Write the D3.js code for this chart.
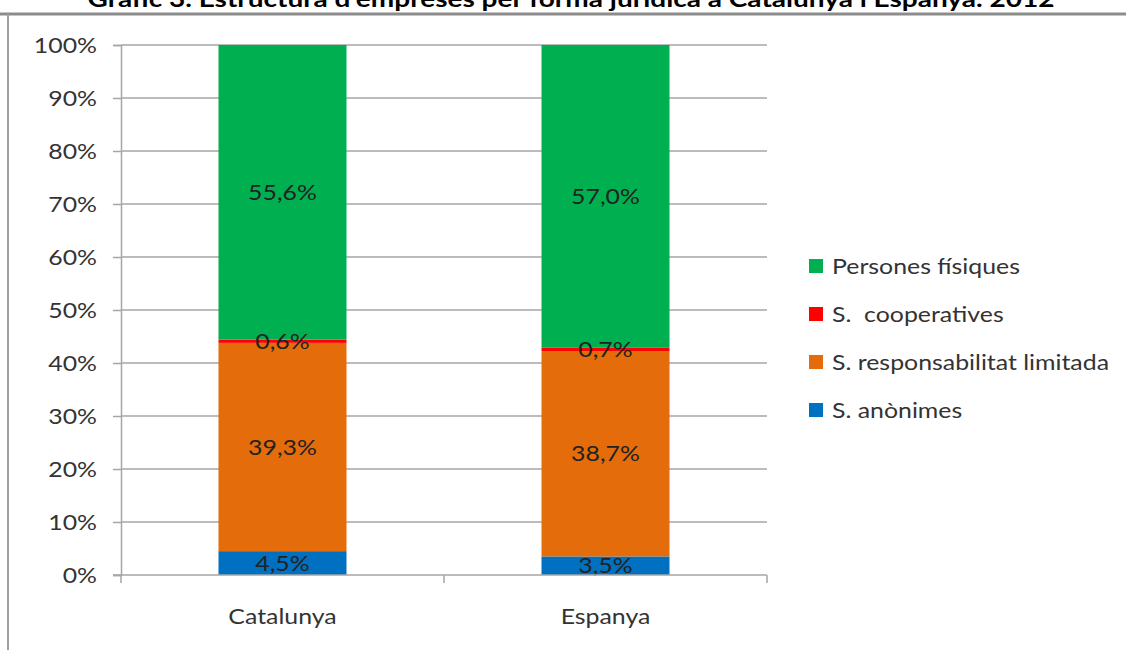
<!DOCTYPE html>
<html>
<head>
<meta charset="utf-8">
<script src="https://cdn.jsdelivr.net/npm/d3@7/dist/d3.min.js"></script>
<style>
  html, body { margin: 0; padding: 0; background: #fff; }
  svg { display: block; }
  text { font-family: Lato, "Open Sans", "Noto Sans", sans-serif; }
</style>
</head>
<body>
<svg id="chart" width="1126" height="650"></svg>
<script>
const title = "Gràfic 3. Estructura d'empreses per forma jurídica a Catalunya i Espanya. 2012";
const categories = ["Catalunya", "Espanya"];
const seriesNames = ["S. anònimes", "S. responsabilitat limitada", "S.  cooperatives", "Persones físiques"];
const anonimes = [4.5, 3.5];
const limitada = [39.3, 38.7];
const cooperatives = [0.6, 0.7];
const fisiques = [55.6, 57.0];
const colors = ["#0070c0", "#e46c0a", "#ff0000", "#00b050"];
const yTicks = [0, 10, 20, 30, 40, 50, 60, 70, 80, 90, 100];

(function () {
const seriesValues = [anonimes, limitada, cooperatives, fisiques];
const rows = categories.map((c, i) => {
  const r = { cat: c };
  seriesNames.forEach((s, j) => r[s] = seriesValues[j][i]);
  return r;
});

const FS = 22, SX = 1.13;
function stretch(sel) {
  sel.each(function () {
    const t = d3.select(this);
    const x0 = +(t.attr("x") || 0);
    t.attr("transform", `translate(${x0},0) scale(${SX},1) translate(${-x0},0)`);
  });
}

const svg = d3.select("#chart");
const pLeft = 121, pRight = 767, pTop = 45, pBottom = 575;

// frame
svg.append("line").attr("x1", 0).attr("x2", 1126).attr("y1", 14).attr("y2", 14)
  .attr("stroke", "#8c8c8c").attr("stroke-width", 3);
svg.append("line").attr("x1", 8).attr("x2", 8).attr("y1", 14).attr("y2", 650)
  .attr("stroke", "#a0a0a0").attr("stroke-width", 2);

// title (clipped at top)
svg.append("text").attr("x", 571).attr("y", 7).attr("text-anchor", "middle")
  .attr("font-weight", "bold").attr("font-size", 22).attr("fill", "#000")
  .attr("textLength", 967).attr("lengthAdjust", "spacingAndGlyphs")
  .text(title);

const x = d3.scaleBand().domain(categories).range([pLeft, pRight]).paddingInner(0).paddingOuter(0);
const y = d3.scaleLinear().domain([0, 100]).range([pBottom, pTop]);
const barW = 128;

// gridlines
svg.append("g").selectAll("line").data(yTicks.filter(t => t > 0)).join("line")
  .attr("x1", pLeft).attr("x2", pRight)
  .attr("y1", d => y(d)).attr("y2", d => y(d))
  .attr("stroke", "#a6a6a6").attr("stroke-width", 1.5);

// y axis
const yAxis = d3.axisLeft(y).tickValues(yTicks).tickFormat(d => d + "%").tickSize(8).tickPadding(16);
const gy = svg.append("g").attr("transform", `translate(${pLeft},0)`).call(yAxis);
gy.select(".domain").attr("stroke", "#a6a6a6").attr("stroke-width", 1.5);
gy.selectAll(".tick line").attr("stroke", "#a6a6a6").attr("stroke-width", 1.5);
gy.selectAll(".tick text").attr("font-size", FS).attr("fill", "#333")
  .attr("font-family", "Lato, 'Open Sans', sans-serif").call(stretch);

// stacked bars
const stack = d3.stack().keys(seriesNames).offset(d3.stackOffsetExpand);
const stacked = stack(rows);

const gBars = svg.append("g");
stacked.forEach((layer, li) => {
  gBars.append("g").selectAll("rect").data(layer).join("rect")
    .attr("x", d => x(d.data.cat) + x.bandwidth() / 2 - barW / 2)
    .attr("width", barW)
    .attr("y", d => y(d[1] * 100))
    .attr("height", d => y(d[0] * 100) - y(d[1] * 100))
    .attr("fill", colors[li]);
});

// x axis
const xAxis = d3.axisBottom(x).tickSize(0).tickPadding(33);
const gx = svg.append("g").attr("transform", `translate(0,${pBottom})`).call(xAxis);
gx.select(".domain").remove();
gx.append("line").attr("x1", pLeft - 8).attr("x2", pRight).attr("y1", 0).attr("y2", 0)
  .attr("stroke", "#a6a6a6").attr("stroke-width", 1.5);
gx.selectAll(".sep").data([pLeft, ...categories.map(c => x(c) + x.bandwidth())]).join("line")
  .attr("class", "sep")
  .attr("x1", d => d).attr("x2", d => d).attr("y1", 0).attr("y2", 8)
  .attr("stroke", "#a6a6a6").attr("stroke-width", 1.5);
gx.selectAll(".tick text").attr("font-size", FS).attr("fill", "#333")
  .attr("font-family", "Lato, 'Open Sans', sans-serif").call(stretch);

// data labels
const fmt = v => v.toFixed(1).replace(".", ",") + "%";
stacked.forEach((layer, li) => {
  gBars.append("g").selectAll("text").data(layer).join("text")
    .attr("x", d => x(d.data.cat) + x.bandwidth() / 2)
    .attr("y", d => y((d[0] + d[1]) / 2 * 100))
    .attr("dy", "0.35em")
    .attr("text-anchor", "middle")
    .attr("font-size", FS).attr("fill", "#222")
    .text(d => fmt(d.data[layer.key]))
    .call(stretch);
});

// legend
const legendOrder = [3, 2, 1, 0];
const lg = svg.append("g");
legendOrder.forEach((si, i) => {
  const yy = 266 + i * 48;
  lg.append("rect").attr("x", 809).attr("y", yy - 7).attr("width", 14).attr("height", 14)
    .attr("fill", colors[si]);
  lg.append("text").attr("x", 832).attr("y", yy).attr("dy", "0.35em")
    .attr("font-size", FS).attr("fill", "#333")
    .style("white-space", "pre")
    .text(seriesNames[si])
    .call(stretch);
});
})();
</script>
</body>
</html>
